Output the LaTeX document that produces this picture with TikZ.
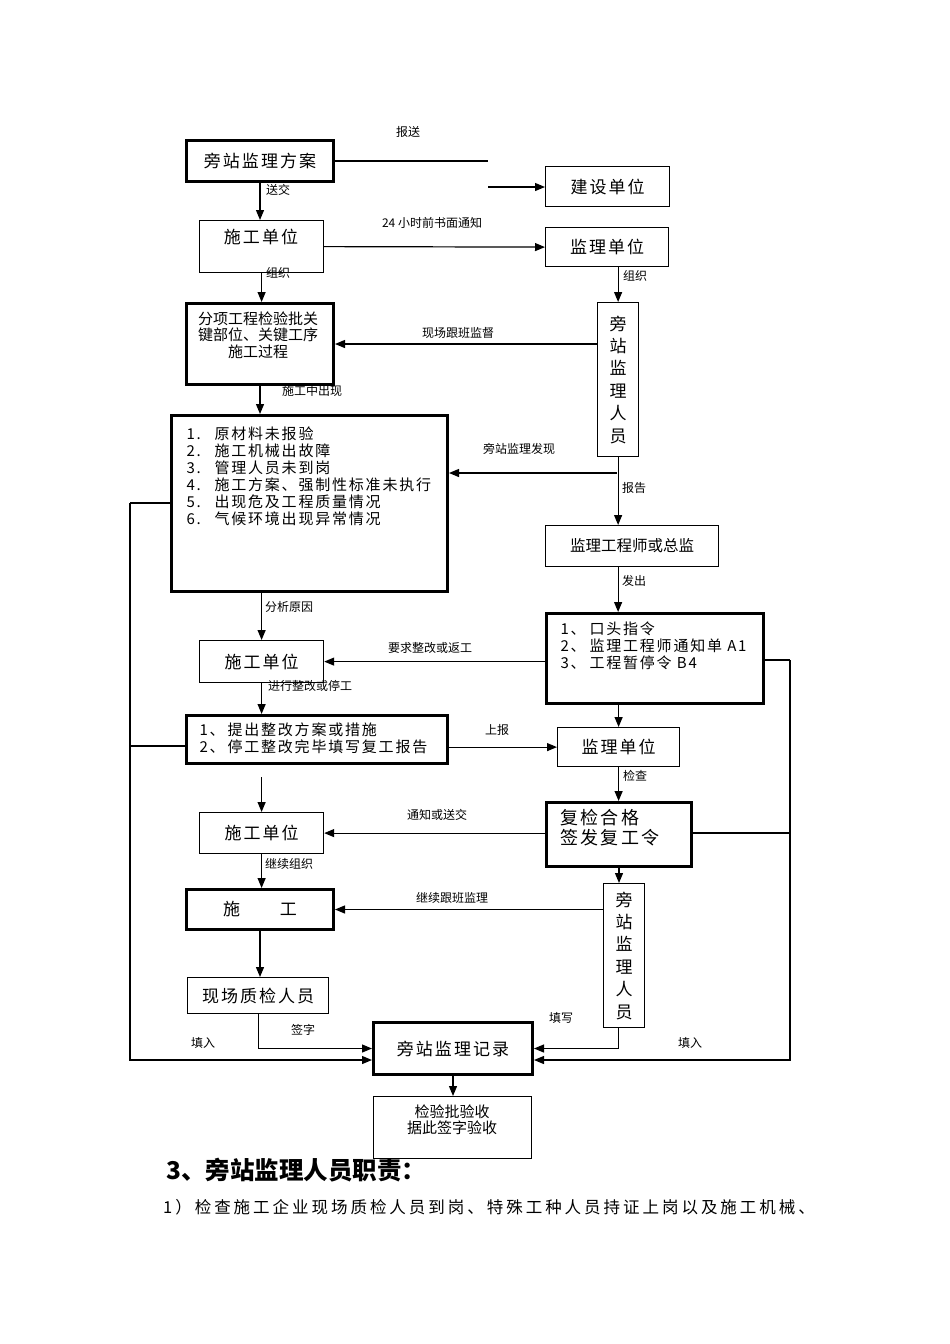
\documentclass[tikz,border=0pt]{standalone}
\usepackage{fontspec}
\setmainfont{Noto Sans CJK SC}
\newfontfamily\widecjk{Noto Sans CJK SC}[LetterSpace=12]
\newfontfamily\widercjk{Noto Sans CJK SC}[LetterSpace=18]
\usetikzlibrary{arrows.meta}

\newcommand*\boxfont{\widecjk\fontsize{17}{20}\selectfont}
\newcommand*\notefont{\fontsize{12}{14}\selectfont}
\newcommand*\listfont{\widecjk\fontsize{15}{17}\selectfont}
\newcommand*\thinline{1.2pt}
\newcommand*\thickline{3pt}
\tikzset{unit/.style 2 args={
    draw,
    line width=\thinline,
    rectangle,
    anchor=north west,
    inner sep=0pt,
    minimum width=#1pt,
    minimum height=#2pt,
    font=\boxfont,
    align=center
}}
\tikzset{bigunit/.style 2 args={unit={#1}{#2}, line width=\thickline}}
\tikzset{note/.style={font=\notefont, inner sep=1pt}}
\tikzset{flow/.style={line width=\thinline, -{Triangle[length=10pt,width=8pt]}}}
\tikzset{wire/.style={line width=\thinline}}

\begin{document}
\begin{tikzpicture}[x=1pt,y=-1pt]
    \useasboundingbox (0,0) rectangle (950,1344);

    % Left column of boxes.
    \node[bigunit={147}{41}] (plan) at (185,139) {旁站监理方案};
    \node[unit={124}{52}] (con1) at (199,220) {};
    \node[font=\boxfont] (con1-txt) at (261,237) {施工单位};
    \node[bigunit={147}{81}] (part) at (185,302) {};
    \node[font=\fontsize{15}{16.5}\selectfont, align=center] (part-txt) at (258,335)
        {分项工程检验批关\\键部位、关键工序\\施工过程};
    \node[bigunit={276}{176}] (issue) at (170,414) {};
    \node[font=\listfont, align=left, anchor=west] (issue-txt) at (183,476)
        {\makebox[28pt][l]{1.}原材料未报验\\
         \makebox[28pt][l]{2.}施工机械出故障\\
         \makebox[28pt][l]{3.}管理人员未到岗\\
         \makebox[28pt][l]{4.}施工方案、强制性标准未执行\\
         \makebox[28pt][l]{5.}出现危及工程质量情况\\
         \makebox[28pt][l]{6.}气候环境出现异常情况};
    \node[unit={124}{42}] (con2) at (199,640) {施工单位};
    \node[bigunit={261}{48}] (fix) at (185,714) {};
    \node[font=\listfont, align=left, anchor=west] (fix-txt) at (196,738)
        {\makebox[28pt][l]{1、}提出整改方案或措施\\
         \makebox[28pt][l]{2、}停工整改完毕填写复工报告};
    \node[unit={124}{41}] (con3) at (199,812) {施工单位};
    \node[bigunit={147}{40}] (work) at (185,888) {施\hspace{40pt}工};
    \node[unit={141}{36}] (inspector) at (187,977) {现场质检人员};

    % Right column of boxes.
    \node[unit={124}{40}] (owner) at (545,166) {建设单位};
    \node[unit={123}{39}] (sup1) at (545,227) {监理单位};
    \node[unit={41}{154}, font=\fontsize{17}{22.4}\selectfont] (staff1) at (597,302)
        {旁\\站\\监\\理\\人\\员};
    \node[unit={173}{41}, font=\fontsize{15.5}{18}\selectfont] (chief) at (545,525) {监理工程师或总监};
    \node[bigunit={217}{90}] (order) at (545,612) {};
    \node[font=\listfont, align=left, anchor=west] (order-txt) at (557,646)
        {\makebox[29pt][l]{1、}口头指令\\
         \makebox[29pt][l]{2、}监理工程师通知单 A1\\
         \makebox[29pt][l]{3、}工程暂停令 B4};
    \node[unit={122}{39}] (sup2) at (557,727) {监理单位};
    \node[bigunit={145}{64}] (pass) at (545,801) {};
    \node[font=\widecjk\fontsize{18}{20}\selectfont, align=left, anchor=west] (pass-txt) at (557,828)
        {复检合格\\签发复工令};
    \node[unit={41}{144}, font=\fontsize{17}{22.4}\selectfont] (staff2) at (603,883)
        {旁\\站\\监\\理\\人\\员};

    % Bottom boxes.
    \node[bigunit={159}{52}] (record) at (372,1021) {旁站监理记录};
    \node[unit={158}{62}] (accept) at (373,1096) {};
    \node[font=\fontsize{15}{16}\selectfont, align=center] (accept-txt) at (452,1120)
        {检验批验收\\据此签字验收};

    % Free ends and loop corners.
    \coordinate (sendA) at (488,158);
    \coordinate (sendB) at (488,187);
    \coordinate (find) at (617,473);
    \coordinate (resume) at (259,777);
    \coordinate (loopL-top) at (130,503);
    \coordinate (loopL-mid) at (130,746);
    \coordinate (loopL-bot) at (130,1060);
    \coordinate (loopR-top) at (790,660);
    \coordinate (loopR-mid) at (790,833);
    \coordinate (loopR-bot) at (790,1060);

    % Draw the connectors.
    \draw[wire] (plan.east) -- (plan.east -| sendA);
    \draw[flow] (sendB) -- (owner.west |- sendB);
    \draw[flow] (plan.south) -- (plan.south |- con1.north);
    \draw[flow] (con1.east) -- (sup1.west);
    \draw[flow] (con1.south) -- (con1.south |- part.north);
    \draw[flow] (staff1.north |- sup1.south) -- (staff1.north);
    \draw[flow] (staff1.west |- part.east) -- (part.east);
    \draw[flow] (part.south) -- (part.south |- issue.north);
    \draw[flow] (staff1.south) -- (staff1.south |- chief.north);
    \draw[flow] (find) -- (find -| issue.east);
    \draw[flow] (chief.south -| staff1.south) -- (staff1.south |- order.north);
    \draw[flow] (con2.north |- issue.south) -- (con2.north);
    \draw[flow] (order.west |- con2.east) -- (con2.east);
    \draw[flow] (con2.south) -- (con2.south |- fix.north);
    \draw[flow] (fix.east |- sup2.west) -- (sup2.west);
    \draw[flow] (order.south -| sup2.north) -- (sup2.north);
    \draw[flow] (sup2.south) -- (sup2.south |- pass.north);
    \draw[flow] (pass.west |- con3.east) -- (con3.east);
    \draw[flow] (con3.north |- resume) -- (con3.north);
    \draw[flow] (con3.south) -- (con3.south |- work.north);
    \draw[flow] (pass.south) -- (pass.south |- staff2.north);
    \draw[flow] (staff2.west |- work.east) -- (work.east);
    \draw[flow] (work.south) -- (work.south |- inspector.north);
    \draw[flow] (inspector.south) |- (record.west);
    \draw[flow] ([xshift=-6pt]staff2.south) |- (record.east);
    \draw[flow] (record.south) -- (record.south |- accept.north);

    % Draw the two feedback loops.
    \draw[wire] (loopL-top -| issue.west) -- (loopL-top);
    \draw[wire] (loopL-mid -| fix.west) -- (loopL-mid);
    \draw[flow] (loopL-top) -- (loopL-bot) -- (loopL-bot -| record.west);
    \draw[wire] (loopR-top -| order.east) -- (loopR-top);
    \draw[wire] (loopR-mid -| pass.east) -- (loopR-mid);
    \draw[flow] (loopR-top) -- (loopR-bot) -- (loopR-bot -| record.east);

    % Connector labels.
    \foreach \tag/\x/\y/\txt in {send/408/132/报送,hand/278/190/送交,
        notice/432/223/24 小时前书面通知,orgL/278/273/组织,orgR/635/276/组织,
        watch/458/333/现场跟班监督,occur/312/391/施工中出现,spot/519/449/旁站监理发现,
        report/634/488/报告,issue/634/581/发出,cause/289/607/分析原因,
        redo/430/648/要求整改或返工,rect/310/686/进行整改或停工,up/497/730/上报,
        check/635/776/检查,inform/437/815/通知或送交,cont/289/864/继续组织,
        follow/452/898/继续跟班监理,sign/303/1030/签字,write/561/1018/填写,
        fillL/203/1043/填入,fillR/690/1043/填入}
        \node[note] (lbl-\tag) at (\x,\y) {\txt};

    % Text below the chart.
    \node[anchor=west, inner sep=0pt, font=\fontsize{24.5}{28}\selectfont\bfseries] (duty-head) at (166,1170)
        {3、旁站监理人员职责：};
    \node[anchor=west, inner sep=0pt, font=\widercjk\fontsize{16.5}{20}\selectfont] (duty-one) at (163,1207)
        {1）检查施工企业现场质检人员到岗、特殊工种人员持证上岗以及施工机械、};

\end{tikzpicture}
\end{document}
